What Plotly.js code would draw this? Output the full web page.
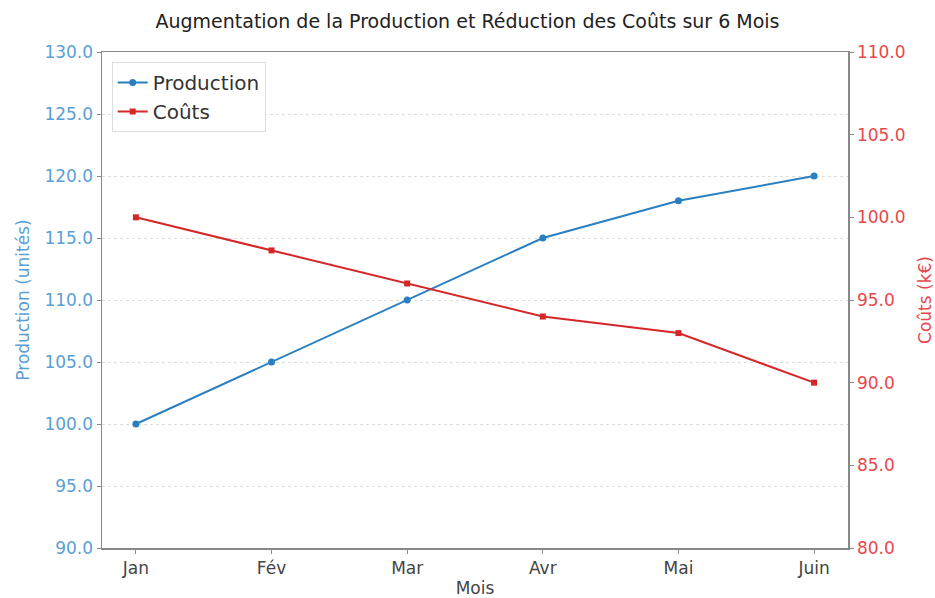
<!DOCTYPE html>
<html>
<head>
<meta charset="utf-8">
<script src="https://cdn.plot.ly/plotly-3.0.1.min.js"></script>
<style>html,body{margin:0;padding:0;background:#fff;}#chart{width:935px;height:598px;}</style>
</head>
<body>
<div id="chart"></div>
<script>
const months = ["Jan", "Fév", "Mar", "Avr", "Mai", "Juin"];
const production = [100, 105, 110, 115, 118, 120];
const couts = [100, 98, 96, 94, 93, 90];
const leftTicks = [90, 95, 100, 105, 110, 115, 120, 125, 130];
const rightTicks = [80, 85, 90, 95, 100, 105, 110];

const FONT = "DejaVu Sans, sans-serif";
const blue = "#2a7fc0", red = "#d62728";
const blueTxt = "#5a9fd4", redTxt = "#e8484a";

const traces = [
  {x: months, y: production, name: "Production", type: "scatter", mode: "lines+markers",
   line: {color: blue, width: 2}, marker: {symbol: "circle", size: 7, color: blue}, yaxis: "y"},
  {x: months, y: couts, name: "Coûts", type: "scatter", mode: "lines+markers",
   line: {color: red, width: 2}, marker: {symbol: "square", size: 6, color: red}, yaxis: "y2"}
];

const layout = {
  width: 935, height: 598,
  margin: {l: 102, r: 87, t: 52, b: 50},
  paper_bgcolor: "#fff", plot_bgcolor: "#fff",
  font: {family: FONT, color: "#333"},
  title: {text: "Augmentation de la Production et Réduction des Coûts sur 6 Mois",
          font: {size: 19, color: "#222", family: FONT}, x: 0.5, xanchor: "center", y: 0.965, yanchor: "middle"},
  showlegend: true,
  legend: {x: 0.013, y: 0.98, xanchor: "left", yanchor: "top", bgcolor: "rgba(255,255,255,0.9)",
           bordercolor: "#ddd", borderwidth: 1, font: {size: 20, color: "#333"}},
  xaxis: {
    type: "category", categoryorder: "array", categoryarray: months,
    range: [-0.25, 5.25], showgrid: false, zeroline: false,
    showline: true, linecolor: "#888", linewidth: 1.5, mirror: true,
    ticks: "outside", ticklen: 4, tickcolor: "#888",
    tickfont: {size: 17, color: "#444"},
    title: {text: "Mois", font: {size: 17, color: "#444"}, standoff: 6}
  },
  yaxis: {
    range: [90, 130], tickvals: leftTicks, ticktext: leftTicks.map(v => v.toFixed(1)),
    showgrid: true, gridcolor: "#ddd", griddash: "dot", gridwidth: 1, zeroline: false,
    showline: true, linecolor: "#888", linewidth: 1.5,
    ticks: "outside", ticklen: 4, tickcolor: "#888",
    tickfont: {size: 17, color: blueTxt},
    title: {text: "Production (unités)", font: {size: 17, color: blueTxt}, standoff: 10}
  },
  yaxis2: {
    range: [80, 110], tickvals: rightTicks, ticktext: rightTicks.map(v => v.toFixed(1)),
    overlaying: "y", side: "right", showgrid: false, zeroline: false,
    showline: true, linecolor: "#888", linewidth: 1.5,
    ticks: "outside", ticklen: 4, tickcolor: "#888",
    tickfont: {size: 17, color: redTxt},
    title: {text: "Coûts (k€)", font: {size: 17, color: redTxt}, standoff: 14}
  }
};

Plotly.newPlot("chart", traces, layout, {displayModeBar: false, staticPlot: true});
</script>
</body>
</html>
